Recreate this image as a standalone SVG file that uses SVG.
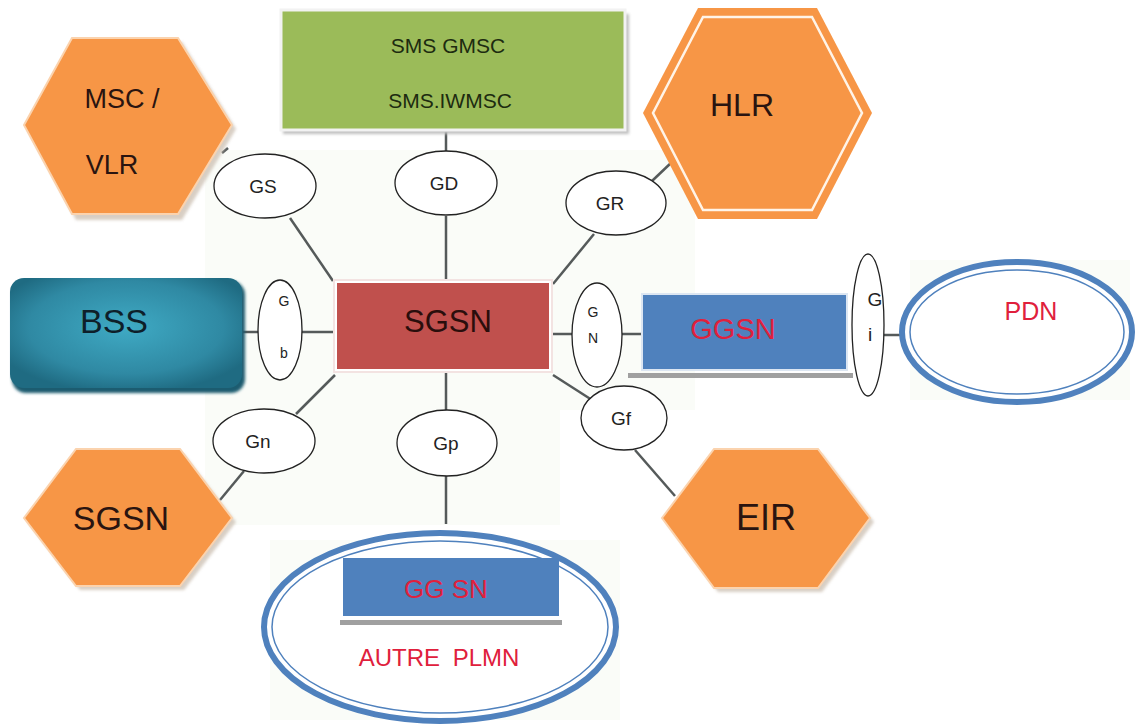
<svg xmlns="http://www.w3.org/2000/svg" width="1138" height="724" viewBox="0 0 1138 724">
  <defs>
    <radialGradient id="bssFill" cx="0.5" cy="0.45" r="0.6">
      <stop offset="0" stop-color="#3FAAC4"/>
      <stop offset="0.7" stop-color="#2F89A3"/>
      <stop offset="1" stop-color="#1F6B82"/>
    </radialGradient>
    <filter id="soft" x="-10%" y="-10%" width="130%" height="130%">
      <feGaussianBlur stdDeviation="1.5"/>
    </filter>
  </defs>
  <style>
    .lbl { font-family: "Liberation Sans", Arial, sans-serif; text-anchor: middle; }
    .dark { fill: #2A1410; }
    .red { fill: #E0203C; }
    .hex { fill: #F79646; }
    .hexshadow { fill: #CFC3B6; opacity: 0.8; }
    .iface { fill: #FFFFFF; stroke: #222222; stroke-width: 1.3; }
    .iftext { font-family: "Liberation Sans", Arial, sans-serif; text-anchor: middle; fill: #222222; font-size: 19px; }
    .iftext-s { font-family: "Liberation Sans", Arial, sans-serif; text-anchor: middle; fill: #222222; font-size: 14px; }
    .link { stroke: #555A5A; stroke-width: 2.5; fill: none; }
  </style>

  <rect width="1138" height="724" fill="#FFFFFF"/>

  <!-- faint backdrop panels -->
  <g fill="#FAFCF8">
    <rect x="205" y="150" width="355" height="260"/>
    <rect x="545" y="150" width="150" height="260"/>
    <rect x="205" y="405" width="355" height="120"/>
    <rect x="910" y="260" width="220" height="140"/>
    <rect x="270" y="540" width="350" height="180"/>
  </g>

  <!-- connectors -->
  <g id="connectors">
    <line class="link" x1="222" y1="153" x2="228" y2="148"/>
    <line class="link" x1="290" y1="218" x2="333" y2="281"/>
    <line class="link" x1="446" y1="130" x2="446" y2="151"/>
    <line class="link" x1="446" y1="216" x2="446" y2="282"/>
    <line class="link" x1="553" y1="284" x2="594" y2="234"/>
    <line class="link" x1="652" y1="181" x2="673" y2="161"/>
    <line class="link" x1="243" y1="332" x2="258" y2="332"/>
    <line class="link" x1="302" y1="332" x2="335" y2="332"/>
    <line class="link" x1="550" y1="334" x2="572" y2="334"/>
    <line class="link" x1="622" y1="334" x2="642" y2="334"/>
    <line class="link" x1="884" y1="335" x2="900" y2="335"/>
    <line class="link" x1="335" y1="375" x2="296" y2="414"/>
    <line class="link" x1="244" y1="471" x2="220" y2="500"/>
    <line class="link" x1="446" y1="372" x2="446" y2="410"/>
    <line class="link" x1="446" y1="476" x2="446" y2="524"/>
    <line class="link" x1="553" y1="375" x2="592" y2="400"/>
    <line class="link" x1="635" y1="450" x2="675" y2="496"/>
  </g>

  <!-- MSC / VLR -->
  <g id="msc-vlr">
    <polygon class="hexshadow" points="76,42 182,42 236,129 182,220 76,220 28,129" filter="url(#soft)"/>
    <polygon class="hex" points="72,38 178,38 232,125 178,214 72,214 24,125" stroke="#FBD3AE" stroke-width="2"/>
    <text class="lbl dark" x="122" y="108" font-size="27">MSC /</text>
    <text class="lbl dark" x="112" y="174" font-size="27">VLR</text>
  </g>

  <!-- SMS GMSC / SMS.IWMSC -->
  <g id="sms-gmsc">
    <rect x="283" y="14" width="346" height="120" fill="#BFBFBF" filter="url(#soft)"/>
    <rect x="281" y="10" width="344" height="120" fill="#9BBB59" stroke="#F2F2F2" stroke-width="3"/>
    <text class="lbl" x="448" y="53" font-size="21" fill="#1D2B10">SMS GMSC</text>
    <text class="lbl" x="450" y="108" font-size="21" fill="#1D2B10">SMS.IWMSC</text>
  </g>

  <!-- HLR -->
  <g id="hlr">
    <polygon class="hex" points="698,8 817,8 872,113 817,219 698,219 643,113"/>
    <polygon points="703,17 812,17 862,113 812,210 703,210 653,113" fill="none" stroke="#FFF4E8" stroke-width="2.5"/>
    <text class="lbl dark" x="742" y="116" font-size="32">HLR</text>
  </g>

  <!-- BSS -->
  <g id="bss">
    <rect x="12" y="281" width="233" height="112" rx="14" fill="#1A5C70" filter="url(#soft)"/>
    <rect x="10" y="278" width="232" height="110" rx="14" fill="url(#bssFill)"/>
    <text class="lbl" x="114" y="333" font-size="34" fill="#0E1F2A">BSS</text>
  </g>

  <!-- Gb -->
  <g id="if-gb">
    <ellipse class="iface" cx="280" cy="330" rx="22" ry="50"/>
    <text class="iftext-s" x="284" y="306">G</text>
    <text class="iftext-s" x="284" y="358">b</text>
  </g>

  <!-- SGSN (centre) -->
  <g id="sgsn">
    <rect x="334" y="280" width="218" height="92" fill="#FFFFFF" stroke="#F3E3E2" stroke-width="2"/>
    <rect x="337" y="283" width="212" height="86" fill="#C0504D"/>
    <text class="lbl" x="448" y="332" font-size="31" fill="#2A0E0C">SGSN</text>
  </g>

  <!-- GN -->
  <g id="if-gn">
    <ellipse class="iface" cx="597" cy="335" rx="25" ry="52"/>
    <text class="iftext-s" x="593" y="317">G</text>
    <text class="iftext-s" x="593" y="343">N</text>
  </g>

  <!-- GGSN -->
  <g id="ggsn">
    <rect x="628" y="373" width="225" height="5" fill="#A0A0A0"/>
    <rect x="642" y="294" width="205" height="76" fill="#4F81BD" stroke="#DCE6F2" stroke-width="2"/>
    <text class="lbl red" x="733" y="339" font-size="29">GGSN</text>
  </g>

  <!-- Gi -->
  <g id="if-gi">
    <ellipse class="iface" cx="868" cy="325" rx="16" ry="71"/>
    <text class="iftext" x="875" y="306">G</text>
    <text class="iftext" x="870" y="341">i</text>
  </g>

  <!-- PDN -->
  <g id="pdn">
    <ellipse cx="1017" cy="332" rx="115" ry="70" fill="#FFFFFF" stroke="#4F81BD" stroke-width="6"/>
    <ellipse cx="1017" cy="332" rx="107" ry="62" fill="none" stroke="#4F81BD" stroke-width="1.5"/>
    <text class="lbl red" x="1031" y="320" font-size="25">PDN</text>
  </g>

  <!-- GS -->
  <g id="if-gs">
    <ellipse class="iface" cx="265" cy="186" rx="51" ry="32"/>
    <text class="iftext" x="263" y="193">GS</text>
  </g>

  <!-- GD -->
  <g id="if-gd">
    <ellipse class="iface" cx="446" cy="183" rx="51" ry="32"/>
    <text class="iftext" x="444" y="190">GD</text>
  </g>

  <!-- GR -->
  <g id="if-gr">
    <ellipse class="iface" cx="616" cy="203" rx="50" ry="32"/>
    <text class="iftext" x="610" y="210">GR</text>
  </g>

  <!-- Gn -->
  <g id="if-gn-lower">
    <ellipse class="iface" cx="264" cy="441" rx="51" ry="32"/>
    <text class="iftext" x="258" y="448">Gn</text>
  </g>

  <!-- Gp -->
  <g id="if-gp">
    <ellipse class="iface" cx="447" cy="443" rx="50" ry="33"/>
    <text class="iftext" x="446" y="450">Gp</text>
  </g>

  <!-- Gf -->
  <g id="if-gf">
    <ellipse class="iface" cx="624" cy="418" rx="43" ry="32"/>
    <text class="iftext" x="621" y="425">Gf</text>
  </g>

  <!-- SGSN (neighbour) -->
  <g id="sgsn-peer">
    <polygon class="hexshadow" points="80,454 184,454 236,522 184,590 80,590 28,522" filter="url(#soft)"/>
    <polygon class="hex" points="76,449 180,449 232,518 180,586 76,586 24,518" stroke="#FBD3AE" stroke-width="2"/>
    <text class="lbl dark" x="121" y="530" font-size="34">SGSN</text>
  </g>

  <!-- EIR -->
  <g id="eir">
    <polygon class="hexshadow" points="718,454 822,454 874,522 822,592 718,592 666,522" filter="url(#soft)"/>
    <polygon class="hex" points="714,449 818,449 870,518 818,588 714,588 662,518" stroke="#FBD3AE" stroke-width="2"/>
    <text class="lbl dark" x="766" y="530" font-size="36">EIR</text>
  </g>

  <!-- AUTRE PLMN -->
  <g id="autre-plmn">
    <ellipse cx="440" cy="627" rx="176" ry="94" fill="#FFFFFF" stroke="#4F81BD" stroke-width="6"/>
    <ellipse cx="440" cy="627" rx="168" ry="86" fill="none" stroke="#4F81BD" stroke-width="1.5"/>
    <rect x="340" y="620" width="222" height="5" fill="#A0A0A0"/>
    <rect x="343" y="558" width="216" height="58" fill="#4F81BD"/>
    <text class="lbl red" x="446" y="598" font-size="26">GG SN</text>
    <text class="lbl red" x="439" y="666" font-size="24" word-spacing="6">AUTRE PLMN</text>
  </g>
</svg>
